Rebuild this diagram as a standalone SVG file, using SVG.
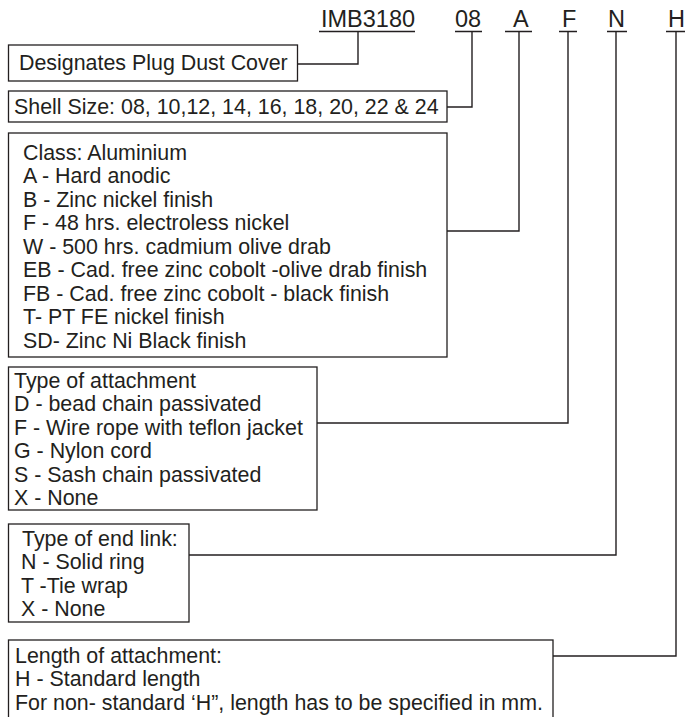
<svg xmlns="http://www.w3.org/2000/svg" width="694" height="717" viewBox="0 0 694 717">
<style>
.bg{fill:#ffffff}
.box{fill:#ffffff;stroke:#231f20;stroke-width:1.3}
.ln{fill:none;stroke:#231f20;stroke-width:1.4}
.hd{font-family:"Liberation Sans",Arial,sans-serif;font-size:23.5px;fill:#231f20}
.t{font-family:"Liberation Sans",Arial,sans-serif;font-size:21.4px;fill:#231f20}
</style>
<rect class="bg" x="0" y="0" width="694" height="717"/>
<g id="header">
<text class="hd" x="321" y="27">IMB3180</text>
<text class="hd" x="455" y="27">08</text>
<text class="hd" x="513" y="27">A</text>
<text class="hd" x="562" y="27">F</text>
<text class="hd" x="608" y="27">N</text>
<text class="hd" x="668" y="27">H</text>
</g>
<g id="connectors">
<path class="ln" d="M319,31.5H415M455,31.5H482M505,31.5H532M559,31.5H577M607,31.5H627M666,31.5H685"/>
<path class="ln" d="M358,31.5V64H297.5"/>
<path class="ln" d="M472,31.5V107H447"/>
<path class="ln" d="M519,31.5V231H447"/>
<path class="ln" d="M568,31.5V423H317"/>
<path class="ln" d="M616,31.5V555H189"/>
<path class="ln" d="M676,31.5V656H553"/>
</g>
<g id="designates">
<rect class="box" x="8.5" y="45" width="289" height="36"/>
<text class="t" x="19" y="70">Designates Plug Dust Cover</text>
</g>
<g id="shell">
<rect class="box" x="8.5" y="91" width="438.5" height="31"/>
<text class="t" x="14" y="114">Shell Size: 08, 10,12, 14, 16, 18, 20, 22 &amp; 24</text>
</g>
<g id="class">
<rect class="box" x="8.5" y="133" width="438.5" height="224"/>
<text class="t" x="23" y="160">Class: Aluminium</text>
<text class="t" x="23" y="183">A - Hard anodic</text>
<text class="t" x="23" y="207">B - Zinc nickel finish</text>
<text class="t" x="23" y="230">F - 48 hrs. electroless nickel</text>
<text class="t" x="23" y="254">W - 500 hrs. cadmium olive drab</text>
<text class="t" x="23" y="277">EB - Cad. free zinc cobolt -olive drab finish</text>
<text class="t" x="23" y="301">FB - Cad. free zinc cobolt - black finish</text>
<text class="t" x="23" y="324">T- PT FE nickel finish</text>
<text class="t" x="23" y="348">SD- Zinc Ni Black finish</text>
</g>
<g id="attachment">
<rect class="box" x="8.5" y="367" width="308.5" height="143"/>
<text class="t" x="14" y="388">Type of attachment</text>
<text class="t" x="14" y="411">D - bead chain passivated</text>
<text class="t" x="14" y="435">F - Wire rope with teflon jacket</text>
<text class="t" x="14" y="458">G - Nylon cord</text>
<text class="t" x="14" y="482">S - Sash chain passivated</text>
<text class="t" x="14" y="505">X - None</text>
</g>
<g id="endlink">
<rect class="box" x="8.5" y="524" width="180.5" height="98"/>
<text class="t" x="22" y="546">Type of end link:</text>
<text class="t" x="21" y="569">N - Solid ring</text>
<text class="t" x="21" y="593">T -Tie wrap</text>
<text class="t" x="21" y="616">X - None</text>
</g>
<g id="length">
<rect class="box" x="8.5" y="640" width="544.5" height="90"/>
<text class="t" x="15" y="663">Length of attachment:</text>
<text class="t" x="15" y="686">H - Standard length</text>
<text class="t" x="15" y="710">For non- standard ‘H”, length has to be specified in mm.</text>
</g>
</svg>
